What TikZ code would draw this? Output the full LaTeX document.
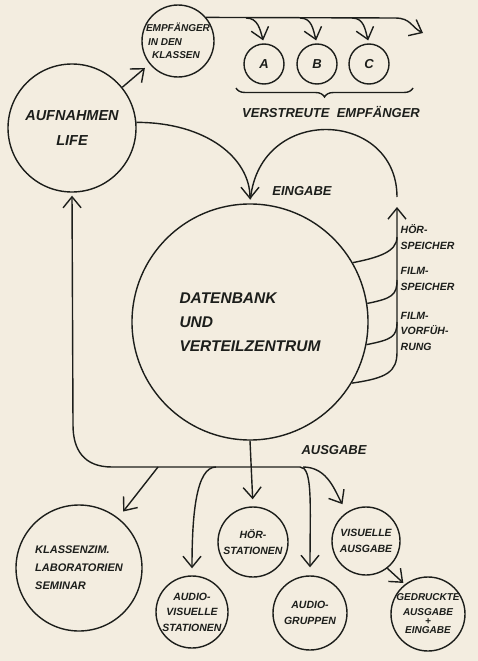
\documentclass[tikz,border=0pt]{standalone}
\usepackage{fontspec}
\setmainfont{Liberation Sans}
\usepackage{xcolor}
\usetikzlibrary{arrows.meta,decorations.pathreplacing}
\definecolor{paper}{HTML}{F3EDE0}
\definecolor{ink}{HTML}{1C1E1B}

\begin{document}
\begin{tikzpicture}[x=1pt,y=-1pt,line width=1.4pt,draw=ink,text=ink,
  >={Straight Barb[length=11pt,width=18pt]},
  ring/.style={circle,draw=ink,inner sep=-14pt,minimum size=#1,align=center},
  big/.style={font=\fontsize{14.5}{25}\selectfont\bfseries\itshape},
  mid/.style={font=\fontsize{13}{16}\selectfont\bfseries\itshape},
  small/.style={font=\fontsize{10.5}{15.5}\selectfont\bfseries\itshape}]
  \fill[paper] (0,0) rectangle (478,661);
  \useasboundingbox (0,0) rectangle (478,661);
  % sources
  \node[ring=128pt,big] (aufn) at (72,128) {AUFNAHMEN\\LIFE};
  \node[ring=72pt,font=\fontsize{10}{13.5}\selectfont\bfseries\itshape,align=left] (empf) at (178,41)
        {EMPF\"ANGER\\\hspace*{2pt}IN DEN\\\hspace*{6pt}KLASSEN};
  \draw[->,shorten >=6pt] (aufn.39) -- (empf.219);
  % scattered receivers
  \coordinate (tEnd) at (423,33);
  \draw[->] (empf.40) -- (395,18) .. controls +(16,0) and +(-12,-6) .. (tEnd);
  \foreach \n/\x/\s in {A/264/246,B/317/300,C/369/352} {
    \node[ring=40pt,mid] (\n) at (\x,64) {\n};
    \coordinate (s\n) at (\s,18);
    \draw[->,shorten >=3pt] (s\n) .. controls +(12,0) and +(-4,-14) .. (\n.north);
  }
  \draw[decorate,decoration={brace,mirror,amplitude=9pt}] (236,88) -- (413,88);
  \node[mid] (verstr) at (331,112) {VERSTREUTE \ EMPF\"ANGER};
  % data bank
  \node[ring=236pt,font=\fontsize{15.5}{24}\selectfont\bfseries\itshape,align=left] (dat) at (250,322)
        {DATENBANK\\UND\\VERTEILZENTRUM};
  \draw[->,shorten >=4pt] (aufn.5) .. controls +(70,0) and +(0,-45) .. (dat.north);
  \coordinate (rTop) at (397,197);
  \draw[shorten >=4pt] (rTop) .. controls +(0,-87) and +(10,-100) .. (dat.north);
  \node[mid] (eingabe) at (302,191) {EINGABE};
  % storage loop on the right
  \coordinate (rArr) at (397,207);
  \draw[->] (dat.-31) .. controls +(35,-5) and +(0,20) .. (397,352) -- (rArr);
  \foreach \a/\y in {30/237,9/280,-11/322}
    \draw (dat.\a) .. controls +(25,-5) and +(0,15) .. (397,\y);
  \node[small,anchor=west,align=left,inner sep=0pt] (hoerlab) at (400,237) {H\"OR-\\SPEICHER};
  \node[small,anchor=west,align=left,inner sep=0pt] (filmlab) at (400,279) {FILM-\\SPEICHER};
  \node[small,anchor=west,align=left,inner sep=0pt] (vorflab) at (400,331) {FILM-\\VORF\"UH-\\RUNG};
  \node[mid] (ausgabe) at (334,450) {AUSGABE};
  % output stations
  \node[ring=126pt,font=\fontsize{11}{18}\selectfont\bfseries\itshape,align=left] (kla) at (79,568)
        {KLASSENZIM.\\LABORATORIEN\\SEMINAR};
  \node[ring=72pt,small] (avs) at (192,612) {AUDIO-\\VISUELLE\\STATIONEN};
  \node[ring=70pt,small] (hoer) at (253,542) {H\"OR-\\STATIONEN};
  \node[ring=74pt,small] (aug) at (310,613) {AUDIO-\\GRUPPEN};
  \node[ring=68pt,small] (vis) at (366,541) {VISUELLE\\AUSGABE};
  \node[ring=74pt,font=\fontsize{10}{15}\selectfont\bfseries\itshape] (ged) at (428,614)
        {GEDRUCKTE\\AUSGABE\\[-6pt]+\\[-6pt]EINGABE};
  % distribution bus
  \coordinate (bK) at (158,467);
  \coordinate (bAV) at (216,467);
  \coordinate (busL) at (112,467);
  \coordinate (busR) at (300,467);
  \coordinate (bV) at (303,467);
  \draw[->,shorten >=3pt] (busR) -- (busL) .. controls +(-28,0) and +(0,25) .. (73,425) -- (aufn.south);
  \draw[->,shorten >=7pt] (dat.south) -- (hoer.north);
  \draw[->,shorten >=8pt] (bK) -- (kla.52);
  \draw[->,shorten >=7pt] (bAV) .. controls +(-20,0) and +(0,-60) .. (avs.north);
  \draw[->,shorten >=8pt] (busR) .. controls +(13,0) and +(0,-70) .. (aug.north);
  \draw[->,shorten >=9pt] (bV) .. controls +(25,0) and +(-12,-20) .. (vis.123);
  \draw[->,shorten >=2pt] (vis.-52) -- (ged.128);
\end{tikzpicture}
\end{document}
